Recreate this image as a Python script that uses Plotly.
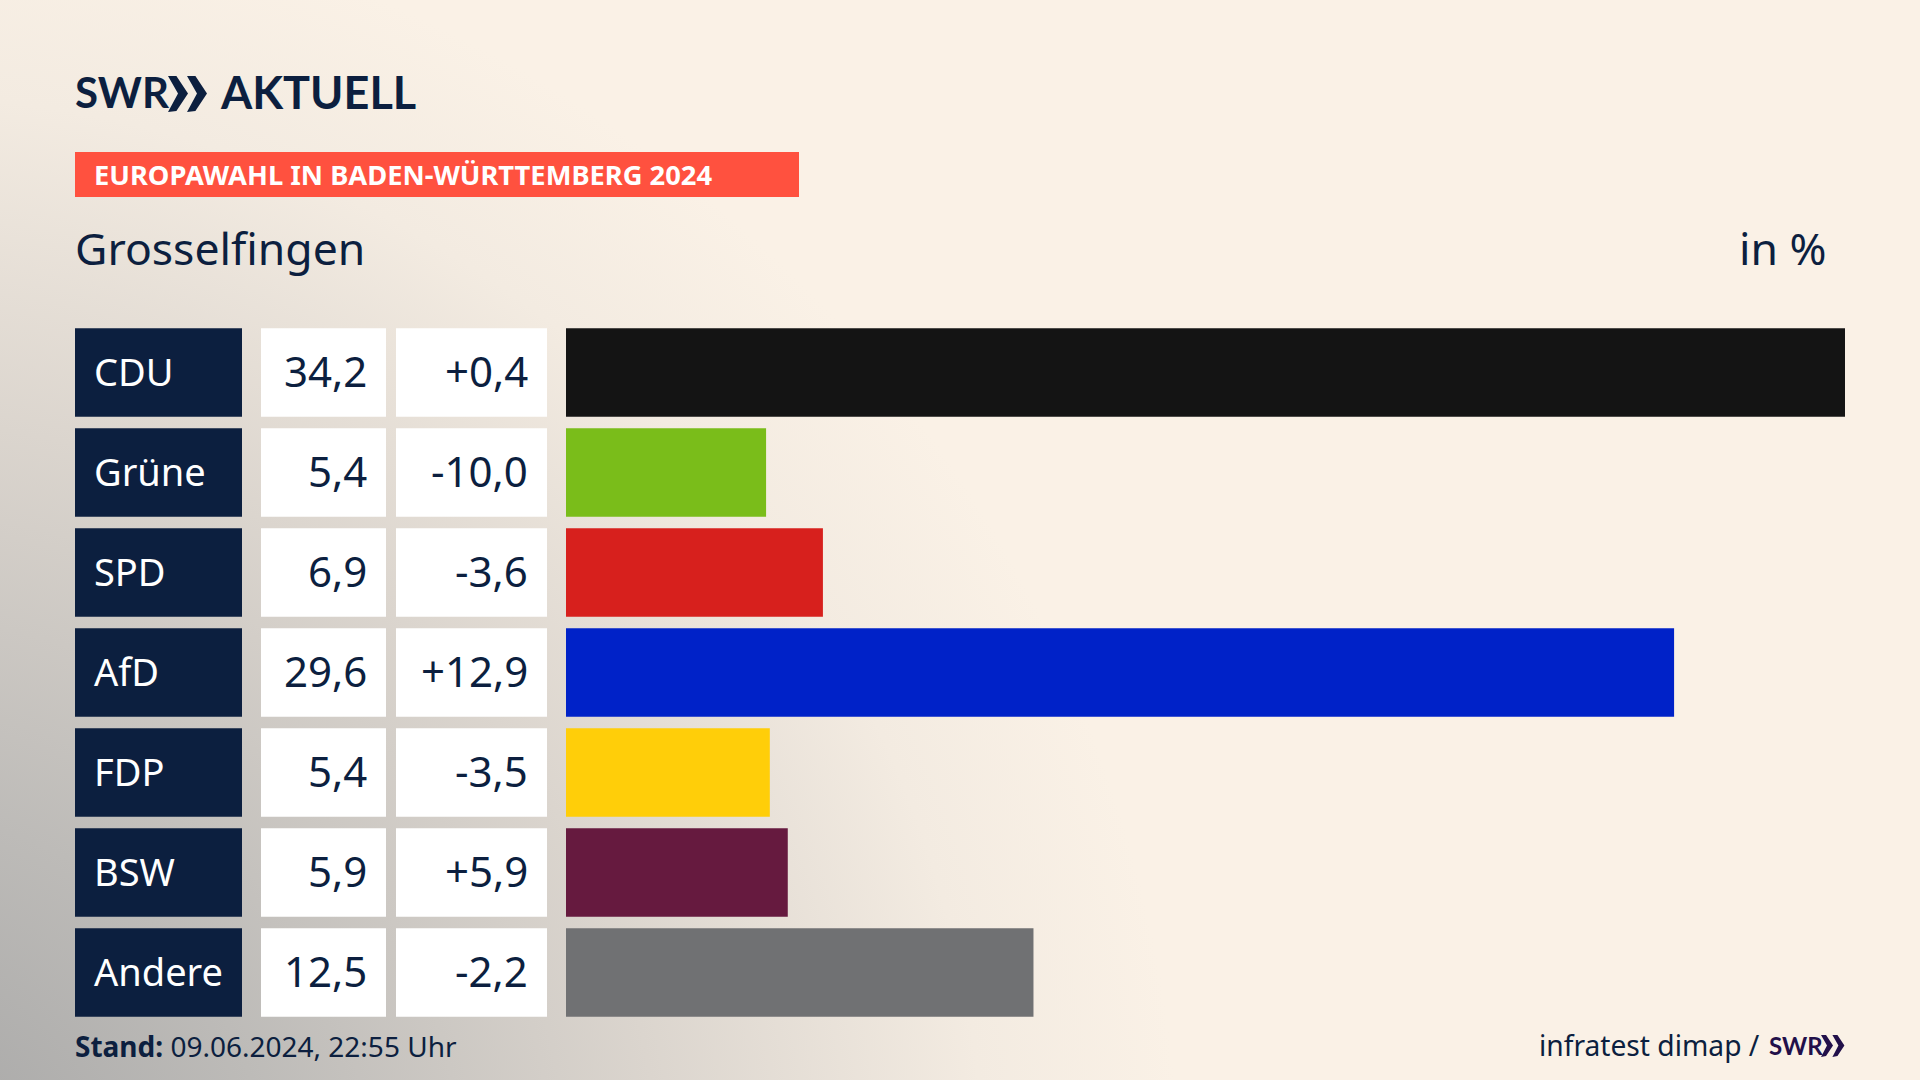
import base64
import plotly.graph_objects as go

W, H = 1920, 1080

parties = ["CDU", "Grüne", "SPD", "AfD", "FDP", "BSW", "Andere"]
bar_values = [34.2, 5.35, 6.87, 29.63, 5.45, 5.93, 12.5]
share_labels = ["34,2", "5,4", "6,9", "29,6", "5,4", "5,9", "12,5"]
change_labels = ["+0,4", "-10,0", "-3,6", "+12,9", "-3,5", "+5,9", "-2,2"]
bar_colors = ["#141414", "#7ABD1A", "#D7201D", "#0022C8", "#FFCE09", "#661A3F", "#707173"]

NAVY = "#0C1F3F"
FONT = "Noto Sans"
LOGO = "Lato"


def fx(x):
    return x / W


def fy(y):
    return 1 - y / H


def poly(points, color):
    path = "M" + " L".join(f"{fx(x):.5f},{fy(y):.5f}" for x, y in points) + " Z"
    return dict(type="path", xref="paper", yref="paper", path=path,
                fillcolor=color, line=dict(width=0), layer="above")


def chevrons(x, top, bottom, size, color):
    mid = (top + bottom) / 2
    out = []
    for k in (0, size * 0.95):
        out.append(poly([(x + k, top), (x + k + size * 0.42, top), (x + k + size, mid),
                         (x + k + size * 0.42, bottom), (x + k, bottom + 1),
                         (x + k + size * 0.5, mid)], color))
    return out


bg_svg = f"""<svg xmlns='http://www.w3.org/2000/svg' width='{W}' height='{H}' viewBox='0 0 {W} {H}'>
<defs><radialGradient id='g' gradientUnits='userSpaceOnUse' cx='-120' cy='1200' r='1300'>
<stop offset='0' stop-color='#a3a3a3'/><stop offset='0.3' stop-color='#bdbbb8'/>
<stop offset='0.6' stop-color='#dbd5ce'/><stop offset='0.85' stop-color='#f3ebe1'/>
<stop offset='1' stop-color='#faf1e6'/></radialGradient></defs>
<rect width='{W}' height='{H}' fill='url(#g)'/></svg>"""
bg_uri = "data:image/svg+xml;base64," + base64.b64encode(bg_svg.encode()).decode()

fig = go.Figure(go.Bar(
    x=bar_values, y=parties, orientation="h",
    marker=dict(color=bar_colors, line=dict(width=0)),
    hoverinfo="skip",
))

shapes, annotations = [], []
for i, party in enumerate(parties):
    for x0, x1, col in ((75, 242, NAVY), (261, 386, "#FFFFFF"), (396, 547, "#FFFFFF")):
        shapes.append(dict(type="rect", xref="paper", yref="y",
                           x0=fx(x0), x1=fx(x1), y0=i - 0.4425, y1=i + 0.4425,
                           fillcolor=col, line=dict(width=0), layer="below"))
    annotations.append(dict(x=fx(91.5), y=party, xref="paper", yref="y", text=party,
                            xanchor="left", showarrow=False, yshift=2,
                            font=dict(family=FONT, size=38, color="#FFFFFF")))
    annotations.append(dict(x=fx(369), y=party, xref="paper", yref="y", text=share_labels[i],
                            xanchor="right", showarrow=False, yshift=2,
                            font=dict(family=FONT, size=42, color=NAVY)))
    annotations.append(dict(x=fx(530), y=party, xref="paper", yref="y", text=change_labels[i],
                            xanchor="right", showarrow=False, yshift=2,
                            font=dict(family=FONT, size=42, color=NAVY)))


def label(x, y, text, size, color=NAVY, anchor="left", family=FONT):
    annotations.append(dict(x=fx(x), y=fy(y), xref="paper", yref="paper", text=text,
                            xanchor=anchor, yanchor="middle", showarrow=False,
                            font=dict(family=family, size=size, color=color)))


shapes.append(dict(type="rect", xref="paper", yref="paper", x0=fx(75), x1=fx(799),
                   y0=fy(152), y1=fy(197), fillcolor="#FF513F", line=dict(width=0), layer="below"))
label(91.5, 175, "<b>EUROPAWAHL IN BADEN-WÜRTTEMBERG 2024</b>", 27.3, "#FFFFFF")
label(73, 92, "<b>SWR</b>", 42, family=LOGO)
label(218, 92, "<b>AKTUELL</b>", 45, family=LOGO)
shapes += chevrons(168, 76, 111, 20, NAVY)
label(72.5, 247, "Grosselfingen", 44.5)
label(1828.5, 247, "in %", 44.5, anchor="right")
label(72.5, 1046, "<b>Stand:</b> 09.06.2024, 22:55 Uhr", 28)
label(1762, 1045, "infratest dimap /", 28.2, anchor="right")
label(1767, 1045, "<b>SWR</b>", 24, "#22104A", family=LOGO)
shapes += chevrons(1821, 1035, 1056, 12, "#22104A")

fig.update_layout(
    width=W, height=H, autosize=False,
    margin=dict(l=0, r=0, t=0, b=0),
    paper_bgcolor="#FAF1E6", plot_bgcolor="rgba(0,0,0,0)",
    showlegend=False, bargap=0.115,
    shapes=shapes, annotations=annotations,
    images=[dict(source=bg_uri, xref="paper", yref="paper", x=0, y=1, sizex=1, sizey=1,
                 xanchor="left", yanchor="top", sizing="stretch", layer="below")],
    xaxis=dict(domain=[fx(566), fx(1845)], range=[0, 34.2], visible=False, fixedrange=True),
    yaxis=dict(domain=[fy(1022.5), fy(322.5)], autorange="reversed", visible=False, fixedrange=True,
               categoryorder="array", categoryarray=parties),
)

fig.write_html("out.html", config=dict(displayModeBar=False),
               post_script="document.body.style.margin='0';document.body.style.overflow='hidden';")
